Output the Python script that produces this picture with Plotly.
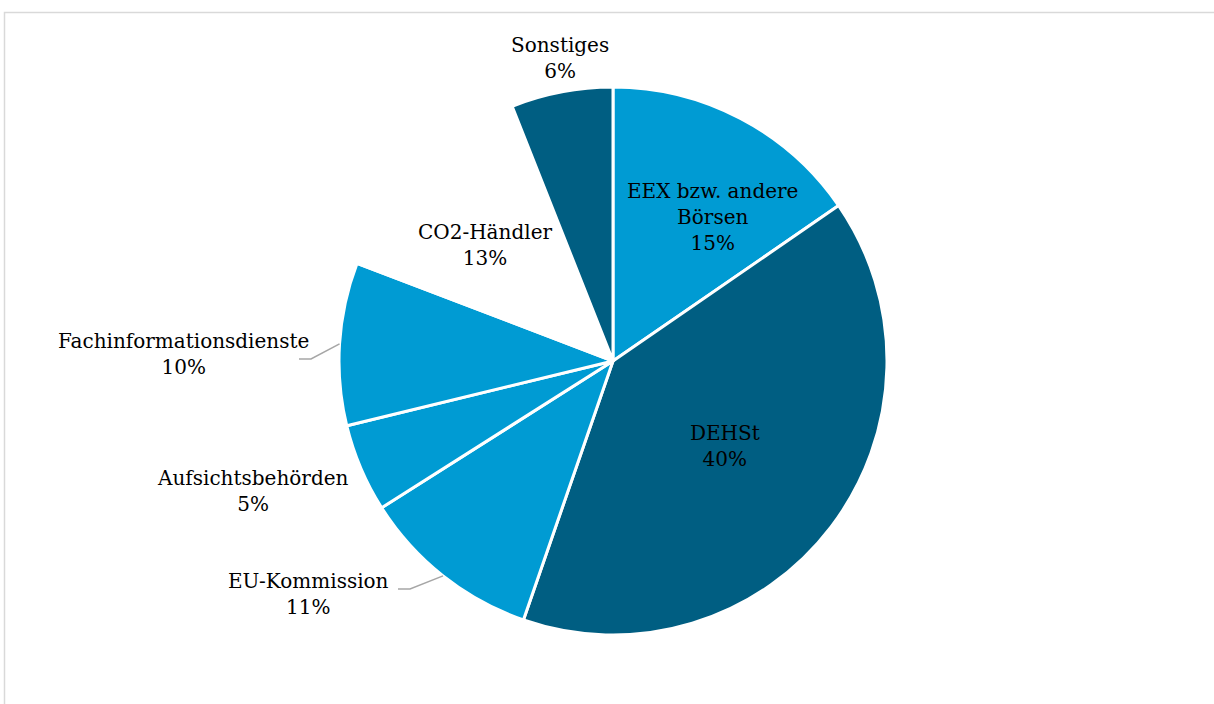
import math
import plotly.graph_objects as go

labels = ["EEX bzw. andere<br>Börsen", "DEHSt", "EU-Kommission", "Aufsichtsbehörden",
          "Fachinformationsdienste", "CO2-Händler", "Sonstiges"]
values = [15.4, 39.9, 10.7, 5.2, 9.6, 13.2, 6.0]
colors = ["#009BD3", "#005E82", "#009BD3", "#009BD3", "#009BD3", "#FFFFFF", "#005E82"]
native_label = [False, True, False, False, False, False, False]

W, H = 1214, 704
cx, cy, r = 613, 361, 274
FONT = dict(family="DejaVu Serif", size=20, color="#000000")

total = sum(values)
pct = [f"{round(v / total * 100)}%" for v in values]

# label placement (pixel centres of the label blocks) for labels drawn as annotations
label_pos = {0: (713, 217), 2: (308, 594), 3: (253, 491), 4: (183, 354), 5: (485, 245), 6: (560, 58)}
# leader line start points (label side) for labels that have a leader
leader_start = {2: (398, 589, 410), 4: (299, 359, 311)}

texttemplates = ["%{label}<br>%{percent:.0%}" if n else "" for n in native_label]

fig = go.Figure(go.Pie(
    labels=labels,
    values=values,
    sort=False,
    direction="clockwise",
    rotation=0,
    marker=dict(colors=colors, line=dict(color="#FFFFFF", width=3)),
    textposition="inside",
    texttemplate=texttemplates,
    insidetextorientation="horizontal",
    textfont=FONT,
    showlegend=False,
    hoverinfo="label+percent",
    automargin=False,
    domain=dict(x=[(cx - r) / W, (cx + r) / W], y=[(H - cy - r) / H, (H - cy + r) / H]),
))

def px(x, y):
    return x / W, 1 - y / H

annotations = []
for i, (x, y) in label_pos.items():
    ax, ay = px(x, y)
    annotations.append(dict(x=ax, y=ay, xref="paper", yref="paper", showarrow=False,
                            text=f"{labels[i]}<br>{pct[i]}", font=FONT,
                            xanchor="center", yanchor="middle", align="center"))

shapes = [dict(type="rect", xref="paper", yref="paper",
               x0=4.5 / W, x1=1.02, y0=-0.02, y1=1 - 12.5 / H,
               line=dict(color="#D9D9D9", width=1.5), fillcolor="rgba(0,0,0,0)")]

cum = 0.0
mids = []
for v in values:
    mids.append((cum + v / 2) / total * 2 * math.pi)
    cum += v
for i, (sx, sy, ex) in leader_start.items():
    a = mids[i]
    tx, ty = cx + r * math.sin(a), cy - r * math.cos(a)
    p0 = px(sx, sy); p1 = px(ex, sy); p2 = px(tx, ty)
    shapes.append(dict(type="path", xref="paper", yref="paper",
                       path=f"M {p0[0]} {p0[1]} L {p1[0]} {p1[1]} L {p2[0]} {p2[1]}",
                       line=dict(color="#A6A6A6", width=1.5)))

fig.update_layout(
    width=W, height=H,
    margin=dict(l=0, r=0, t=0, b=0),
    paper_bgcolor="#FFFFFF",
    plot_bgcolor="#FFFFFF",
    shapes=shapes,
    annotations=annotations,
)

fig.write_html("out.html", config={"displayModeBar": False},
               post_script="document.body.style.margin='0';document.body.style.overflow='hidden';")
